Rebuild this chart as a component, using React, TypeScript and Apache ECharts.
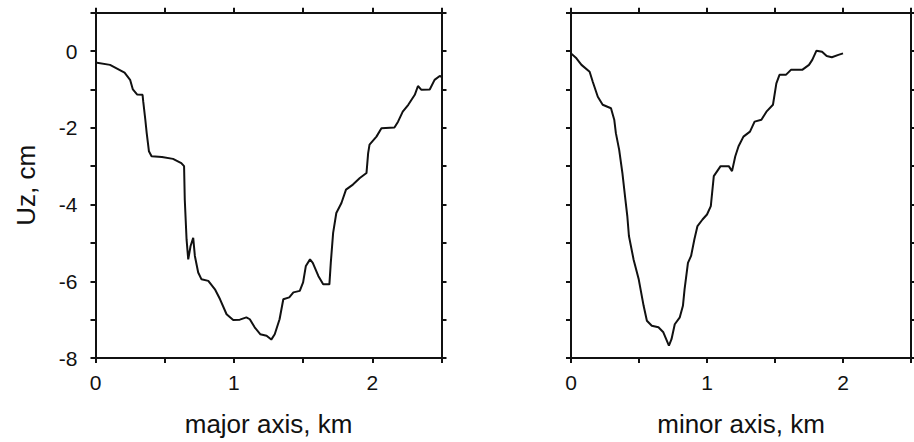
import React, { useEffect, useRef } from "react";
import * as echarts from "echarts";

// Major axis profile (distance km, vertical displacement Uz cm)
const majorDist = [0, 0.105, 0.21, 0.25, 0.27, 0.3, 0.34, 0.345, 0.36, 0.37, 0.386, 0.405, 0.48, 0.56, 0.62, 0.64, 0.645, 0.658, 0.67, 0.687, 0.706, 0.718, 0.742, 0.766, 0.815, 0.863, 0.9, 0.947, 0.995, 1.043, 1.09, 1.115, 1.15, 1.19, 1.236, 1.27, 1.295, 1.33, 1.357, 1.4, 1.43, 1.476, 1.5, 1.52, 1.55, 1.57, 1.61, 1.645, 1.69, 1.7, 1.717, 1.74, 1.777, 1.81, 1.86, 1.91, 1.958, 1.97, 1.98, 2.03, 2.066, 2.16, 2.186, 2.22, 2.26, 2.307, 2.33, 2.355, 2.415, 2.45, 2.487, 2.5];
const majorUz = [-0.3, -0.36, -0.56, -0.75, -1.0, -1.13, -1.14, -1.32, -1.79, -2.14, -2.61, -2.74, -2.76, -2.81, -2.92, -3.0, -3.87, -4.91, -5.43, -5.08, -4.87, -5.34, -5.77, -5.95, -5.99, -6.21, -6.47, -6.86, -7.01, -7.0, -6.94, -6.99, -7.2, -7.38, -7.42, -7.52, -7.38, -6.99, -6.47, -6.42, -6.29, -6.25, -6.03, -5.6, -5.43, -5.52, -5.86, -6.08, -6.08, -5.52, -4.74, -4.22, -3.96, -3.61, -3.48, -3.31, -3.18, -2.66, -2.44, -2.23, -2.01, -1.99, -1.84, -1.58, -1.4, -1.14, -0.91, -1.01, -1.0, -0.75, -0.65, -0.67];

// Minor axis profile
const minorDist = [0, 0.04, 0.077, 0.137, 0.16, 0.197, 0.233, 0.294, 0.318, 0.33, 0.354, 0.378, 0.4, 0.414, 0.426, 0.46, 0.498, 0.534, 0.558, 0.594, 0.643, 0.679, 0.72, 0.739, 0.763, 0.8, 0.823, 0.835, 0.86, 0.883, 0.907, 0.93, 0.967, 1.0, 1.028, 1.05, 1.1, 1.16, 1.184, 1.208, 1.232, 1.268, 1.316, 1.35, 1.4, 1.437, 1.485, 1.51, 1.533, 1.58, 1.617, 1.7, 1.75, 1.774, 1.805, 1.846, 1.88, 1.918, 1.966, 2.0];
const minorUz = [-0.06, -0.19, -0.36, -0.54, -0.8, -1.19, -1.4, -1.49, -1.79, -2.14, -2.57, -3.18, -3.87, -4.3, -4.82, -5.43, -5.95, -6.64, -7.03, -7.16, -7.2, -7.33, -7.68, -7.51, -7.12, -6.94, -6.64, -6.21, -5.52, -5.34, -4.91, -4.56, -4.39, -4.26, -4.04, -3.26, -3.0, -3.0, -3.13, -2.74, -2.48, -2.23, -2.1, -1.84, -1.79, -1.58, -1.4, -0.84, -0.62, -0.62, -0.49, -0.49, -0.36, -0.23, 0.01, -0.02, -0.13, -0.16, -0.1, -0.06];

const xMin = 0;
const xMax = 2.5;
const xStep = 0.5;
const yMin = -8;
const yMax = 1;
const yStep = 1;

const FONT = "'Liberation Sans', Arial, Helvetica, sans-serif";
const INK = "#111";

export default function App() {
  const ref = useRef<HTMLDivElement>(null);

  useEffect(() => {
    document.body.style.margin = "0";
    if (!ref.current) return;
    const chart = echarts.init(ref.current, undefined, { renderer: "svg" });

    const axisLine = { show: true, onZero: false, lineStyle: { color: INK, width: 2 } };
    const axisTick = { show: true, inside: false, length: 5, lineStyle: { color: INK, width: 2 } };

    const xLabel = (v: number) => (Math.abs(v - Math.round(v)) < 1e-9 ? String(Math.round(v)) : "");
    const yLabel = (v: number) => (Math.round(v) % 2 === 0 ? String(Math.round(v)) : "");

    const mkX = (gridIndex: number, position: "bottom" | "top", labels: boolean, name?: string) => ({
      type: "value",
      gridIndex,
      position,
      min: xMin,
      max: xMax,
      interval: xStep,
      axisLine,
      axisTick,
      splitLine: { show: false },
      axisLabel: {
        show: labels,
        formatter: xLabel,
        color: INK,
        fontFamily: FONT,
        fontSize: 21,
        margin: 14,
      },
      name: name || "",
      nameLocation: "middle",
      nameGap: 53,
      nameTextStyle: { color: INK, fontFamily: FONT, fontSize: 26 },
    });

    const mkY = (gridIndex: number, position: "left" | "right", labels: boolean, name?: string) => ({
      type: "value",
      gridIndex,
      position,
      min: yMin,
      max: yMax,
      interval: yStep,
      axisLine,
      axisTick,
      splitLine: { show: false },
      axisLabel: {
        show: labels,
        formatter: yLabel,
        color: INK,
        fontFamily: FONT,
        fontSize: 21,
        margin: 18,
      },
      name: name || "",
      nameLocation: "middle",
      nameGap: 57,
      nameTextStyle: { color: INK, fontFamily: FONT, fontSize: 26 },
    });

    chart.setOption({
      animation: false,
      backgroundColor: "#fff",
      grid: [
        { left: 95.5, top: 12.7, width: 346, height: 346.6 },
        { left: 571, top: 12.7, width: 346, height: 346.6 },
      ],
      xAxis: [
        mkX(0, "bottom", true, "major axis, km"),
        mkX(0, "top", false),
        mkX(1, "bottom", true, "minor axis, km"),
        mkX(1, "top", false),
      ],
      yAxis: [
        mkY(0, "left", true, "Uz, cm"),
        mkY(0, "right", false),
        mkY(1, "left", false),
        mkY(1, "right", false),
      ],
      series: [
        {
          type: "line",
          xAxisIndex: 0,
          yAxisIndex: 0,
          data: majorDist.map((d, i) => [d, majorUz[i]]),
          showSymbol: false,
          lineStyle: { color: INK, width: 2 },
        },
        {
          type: "line",
          xAxisIndex: 2,
          yAxisIndex: 2,
          data: minorDist.map((d, i) => [d, minorUz[i]]),
          showSymbol: false,
          lineStyle: { color: INK, width: 2 },
        },
      ],
    });

    return () => chart.dispose();
  }, []);

  return (
    <div
      ref={ref}
      style={{ position: "absolute", left: 0, top: 0, width: 914, height: 442, background: "#fff" }}
    />
  );
}
